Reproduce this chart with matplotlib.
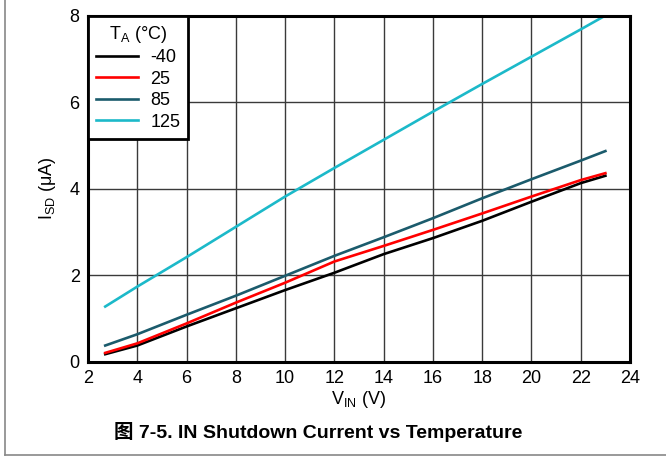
import numpy as np
import matplotlib.pyplot as plt
from matplotlib.lines import Line2D

plt.rcParams['font.family'] = ['Liberation Sans', 'Noto Sans CJK SC', 'DejaVu Sans']
plt.rcParams['mathtext.default'] = 'regular'

# shutdown current (uA) vs input voltage, one curve per temperature
vin = [2.7, 4, 6, 8, 10, 12, 14, 16, 18, 20, 22, 23]
isd_m40 = [0.18, 0.38, 0.82, 1.24, 1.66, 2.06, 2.49, 2.86, 3.26, 3.70, 4.13, 4.30]
isd_25 = [0.21, 0.43, 0.89, 1.37, 1.83, 2.32, 2.68, 3.05, 3.43, 3.82, 4.20, 4.36]
isd_85 = [0.38, 0.64, 1.09, 1.53, 1.99, 2.45, 2.88, 3.32, 3.78, 4.22, 4.65, 4.87]
isd_125 = [1.28, 1.74, 2.42, 3.12, 3.82, 4.48, 5.13, 5.78, 6.42, 7.05, 7.68, 8.0]

temps = ['-40', '25', '85', '125']
colors = ['#000000', '#ff0000', '#1b5b6c', '#1cb9c9']
x_ticks = list(range(2, 25, 2))
y_ticks = [0, 2, 4, 6, 8]

fig = plt.figure(figsize=(6.66, 4.66), dpi=100)
ax = fig.add_axes([0.1321, 0.2232, 0.8139, 0.7435])

for ys, c, t in zip([isd_m40, isd_25, isd_85, isd_125], colors, temps):
    ax.plot(vin, ys, color=c, lw=1.9, label=t)

ax.set_xlim(2, 24)
ax.set_ylim(0, 8)
ax.set_xticks(x_ticks)
ax.set_yticks(y_ticks)
ax.tick_params(length=0, labelsize=13, pad=6)
ax.grid(True, color='#3a3a3a', lw=1.0)
ax.set_axisbelow(True)
for s in ax.spines.values():
    s.set_linewidth(2.2)

ax.set_xlabel('V$_{IN}$ (V)', fontsize=13, labelpad=1)
ax.set_ylabel('I$_{SD}$ ($\\mu$A)', fontsize=13, labelpad=8)

leg = ax.legend(title='T$_A$ (°C)', loc='upper left', fontsize=13, title_fontsize=13,
                frameon=True, fancybox=False, borderaxespad=0, handlelength=2.3,
                handletextpad=0.7, labelspacing=0.25, borderpad=0.45)
leg.get_frame().set_edgecolor('black')
leg.get_frame().set_linewidth(2.0)
leg.get_frame().set_alpha(1)

fig.text(0.478, 0.073, '图 7-5. IN Shutdown Current vs Temperature',
         ha='center', va='center', fontsize=14, fontweight='bold')

# partial page frame at left and bottom
fig.add_artist(Line2D([0.0075, 0.0075], [1, 0.0236], color='#888888', lw=1.2))
fig.add_artist(Line2D([0.0075, 1], [0.0236, 0.0236], color='#888888', lw=1.2))

fig.savefig('out.png', dpi=100)
